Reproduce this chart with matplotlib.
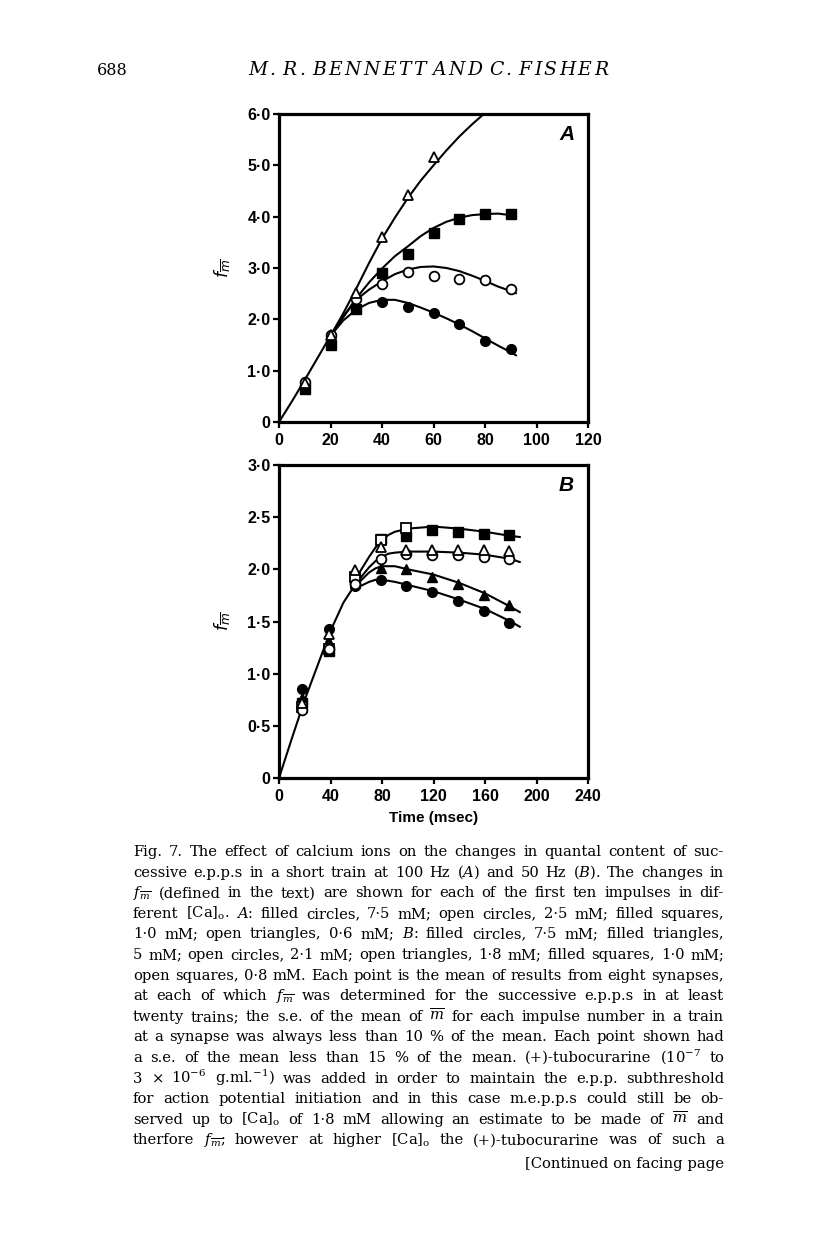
import matplotlib
matplotlib.use("Agg")
import matplotlib.pyplot as plt

plt.rcParams['mathtext.fontset'] = 'dejavuserif'

# ---- Panel A data (100 Hz) ----
a_x = [10, 20, 30, 40, 50, 60, 70, 80, 90]
a_filled_circles = [0.72, 1.68, 2.2, 2.33, 2.24, 2.13, 1.9, 1.58, 1.43]
a_open_circles = [0.78, 1.7, 2.4, 2.68, 2.93, 2.84, 2.79, 2.77, 2.6]
a_filled_squares = [0.65, 1.5, 2.2, 2.9, 3.28, 3.68, 3.95, 4.05, 4.06]
a_tri_x = [10, 20, 30, 40, 50, 60]
a_open_triangles = [0.75, 1.7, 2.52, 3.6, 4.42, 5.17]

# fitted curves A
a_fit_tri_x = [0, 5, 10, 15, 20, 25, 30, 35, 40, 45, 50, 55, 60, 65, 70, 75, 80]
a_fit_tri_y = [0, 0.4, 0.82, 1.25, 1.68, 2.12, 2.6, 3.1, 3.57, 3.98, 4.36, 4.7, 5.0, 5.29, 5.56, 5.8, 6.02]
a_fit_x = [20, 25, 30, 35, 40, 45, 50, 55, 60, 65, 70, 75, 80, 85, 90, 92]
a_fit_sq = [1.68, 2.05, 2.41, 2.72, 2.99, 3.23, 3.42, 3.62, 3.78, 3.9, 3.98, 4.03, 4.05, 4.06, 4.03, 4.0]
a_fit_oc = [1.68, 2.05, 2.38, 2.58, 2.74, 2.88, 2.97, 3.02, 3.03, 3.0, 2.94, 2.85, 2.75, 2.64, 2.55, 2.51]
a_fit_fc = [1.68, 1.98, 2.19, 2.32, 2.38, 2.38, 2.32, 2.23, 2.13, 2.02, 1.9, 1.77, 1.63, 1.49, 1.36, 1.3]

# ---- Panel B data (50 Hz) ----
b_x = [18, 39, 59, 79, 99, 119, 139, 159, 179]
b_filled_circles = [0.85, 1.43, 1.84, 1.9, 1.84, 1.78, 1.7, 1.6, 1.49]
b_filled_triangles = [0.77, 1.3, 1.87, 2.01, 2.0, 1.93, 1.86, 1.75, 1.66]
b_open_circles = [0.65, 1.24, 1.86, 2.1, 2.15, 2.14, 2.14, 2.12, 2.1]
b_open_triangles = [0.72, 1.38, 1.99, 2.21, 2.19, 2.19, 2.19, 2.19, 2.18]
b_filled_squares = [0.72, 1.22, 1.9, 2.29, 2.32, 2.38, 2.36, 2.34, 2.33]
b_osq_x = [18, 39, 59, 79, 99]
b_open_squares = [0.68, 1.24, 1.93, 2.28, 2.4]

# fitted curves B
b_fit0_x = [0, 10, 20, 30, 40, 50, 60]
b_fit0_y = [0, 0.38, 0.75, 1.08, 1.41, 1.68, 1.87]
b_fit_x = [60, 70, 75, 80, 85, 90, 100, 120, 140, 160, 180, 187]
b_fit_sq = [1.92, 2.12, 2.21, 2.28, 2.33, 2.36, 2.39, 2.41, 2.39, 2.36, 2.32, 2.31]
b_fit_oc = [1.87, 2.02, 2.08, 2.12, 2.15, 2.16, 2.17, 2.17, 2.16, 2.14, 2.1, 2.07]
b_fit_ft = [1.85, 1.97, 2.01, 2.03, 2.03, 2.03, 2.0, 1.95, 1.87, 1.77, 1.64, 1.59]
b_fit_fc = [1.82, 1.88, 1.9, 1.9, 1.89, 1.88, 1.85, 1.79, 1.71, 1.62, 1.5, 1.45]

a_xticks = [0, 20, 40, 60, 80, 100, 120]
a_yticks = [0, 1, 2, 3, 4, 5, 6]
a_yticklabels = ["0", "1·0", "2·0", "3·0", "4·0", "5·0", "6·0"]
b_xticks = [0, 40, 80, 120, 160, 200, 240]
b_yticks = [0, 0.5, 1, 1.5, 2, 2.5, 3]
b_yticklabels = ["0", "0·5", "1·0", "1·5", "2·0", "2·5", "3·0"]

header = "M. R. BENNETT AND C. FISHER"
page_no = "688"
caption = [
    "Fig. 7. The effect of calcium ions on the changes in quantal content of suc-",
    "cessive e.p.p.s in a short train at 100 Hz ($A$) and 50 Hz ($B$). The changes in",
    "$f_{\\overline{m}}$ (defined in the text) are shown for each of the first ten impulses in dif-",
    "ferent [Ca]$_{\\mathrm{o}}$. $A$: filled circles, 7·5 mM; open circles, 2·5 mM; filled squares,",
    "1·0 mM; open triangles, 0·6 mM; $B$: filled circles, 7·5 mM; filled triangles,",
    "5 mM; open circles, 2·1 mM; open triangles, 1·8 mM; filled squares, 1·0 mM;",
    "open squares, 0·8 mM. Each point is the mean of results from eight synapses,",
    "at each of which $f_{\\overline{m}}$ was determined for the successive e.p.p.s in at least",
    "twenty trains; the s.e. of the mean of $\\overline{m}$ for each impulse number in a train",
    "at a synapse was always less than 10 % of the mean. Each point shown had",
    "a s.e. of the mean less than 15 % of the mean. (+)-tubocurarine (10$^{-7}$ to",
    "3 $\\times$ 10$^{-6}$ g.ml.$^{-1}$) was added in order to maintain the e.p.p. subthreshold",
    "for action potential initiation and in this case m.e.p.p.s could still be ob-",
    "served up to [Ca]$_{\\mathrm{o}}$ of 1·8 mM allowing an estimate to be made of $\\overline{m}$ and",
    "therfore $f_{\\overline{m}}$; however at higher [Ca]$_{\\mathrm{o}}$ the (+)-tubocurarine was of such a",
]
continued = "[Continued on facing page"

W, H = 816, 1238
fig = plt.figure(figsize=(W / 100, H / 100), dpi=100)
tick_font = dict(fontfamily="Liberation Sans", fontweight="bold", fontsize=11.5)


def style_axes(ax, xt, yt, ytl, xmax, ymax):
    ax.set_xlim(0, xmax)
    ax.set_ylim(0, ymax)
    ax.set_xticks(xt)
    ax.set_xticklabels([str(v) for v in xt], **tick_font)
    ax.set_yticks(yt)
    ax.set_yticklabels(ytl, **tick_font)
    ax.tick_params(direction="out", length=4.5, width=1.6)
    ax.tick_params(axis="x", pad=3.5)
    ax.tick_params(axis="y", pad=1.5)
    for s in ax.spines.values():
        s.set_linewidth(2.3)
    ax.set_ylabel(r"$f_{\overline{m}}$", fontsize=12.5, math_fontfamily="dejavusans")
    ax.yaxis.set_label_coords(-0.15, 0.5)


line_kw = dict(color="black", lw=1.5, zorder=2)
filled = dict(ls="none", ms=7, mfc="black", mec="black", zorder=3)
opened = dict(ls="none", ms=7, mfc="white", mec="black", mew=1.3, zorder=4)

# ---- Panel A ----
axA = fig.add_axes([279 / W, 1 - 422 / H, 309 / W, 308 / H])
axA.plot(a_fit_tri_x, a_fit_tri_y, **line_kw)
axA.plot(a_fit_x, a_fit_sq, **line_kw)
axA.plot(a_fit_x, a_fit_oc, **line_kw)
axA.plot(a_fit_x, a_fit_fc, **line_kw)
axA.plot(a_x, a_filled_squares, marker="s", **filled)
axA.plot(a_x, a_filled_circles, marker="o", **filled)
axA.plot(a_x, a_open_circles, marker="o", **opened)
axA.plot(a_tri_x, a_open_triangles, marker="^", **opened)
style_axes(axA, a_xticks, a_yticks, a_yticklabels, 120, 6)
axA.text(0.955, 0.935, "A", transform=axA.transAxes, ha="right", va="center",
         fontsize=15, fontstyle="italic", fontweight="bold", fontfamily="Liberation Sans")

# ---- Panel B ----
axB = fig.add_axes([279 / W, 1 - 778 / H, 309 / W, 313 / H])
axB.plot(b_fit0_x, b_fit0_y, **line_kw)
axB.plot(b_fit_x, b_fit_sq, **line_kw)
axB.plot(b_fit_x, b_fit_oc, **line_kw)
axB.plot(b_fit_x, b_fit_ft, **line_kw)
axB.plot(b_fit_x, b_fit_fc, **line_kw)
axB.plot(b_x, b_filled_squares, marker="s", **filled)
axB.plot(b_x, b_filled_triangles, marker="^", **filled)
axB.plot(b_x, b_filled_circles, marker="o", **filled)
axB.plot(b_osq_x, b_open_squares, marker="s", **opened)
axB.plot(b_x, b_open_circles, marker="o", **opened)
axB.plot(b_x, b_open_triangles, marker="^", **opened)
style_axes(axB, b_xticks, b_yticks, b_yticklabels, 240, 3)
axB.set_xlabel("Time (msec)", fontfamily="Liberation Sans", fontweight="bold", fontsize=11, labelpad=5)
axB.text(0.955, 0.935, "B", transform=axB.transAxes, ha="right", va="center",
         fontsize=15, fontstyle="italic", fontweight="bold", fontfamily="Liberation Sans")

# ---- page text ----
renderer = fig.canvas.get_renderer()


def width_of(s, **kw):
    t = fig.text(0, 0, s, **kw)
    w = t.get_window_extent(renderer).width
    t.remove()
    return w


def justify(words, y_px, x0, x1, **kw):
    texts = [fig.text(0, 1 - y_px / H, w, va="baseline", ha="left", **kw) for w in words]
    widths = [t.get_window_extent(renderer).width for t in texts]
    gap = (x1 - x0 - sum(widths)) / max(len(words) - 1, 1)
    x = x0
    for t, w in zip(texts, widths):
        t.set_x(x / W)
        x += w + gap


# pick caption size so the widest line just fits the column
col_left, col_right = 133, 724
base = 10.0
widest = max(width_of(l, fontfamily="DejaVu Serif", fontsize=base) for l in caption)
cap_size = base * (col_right - col_left) / widest * 0.985
serif = dict(fontfamily="DejaVu Serif", fontsize=cap_size)

fig.text(97 / W, 1 - 75 / H, page_no, va="baseline", ha="left", fontfamily="DejaVu Serif", fontsize=11.5)

# header: letter-spaced italic capitals
hkw = dict(fontfamily="DejaVu Serif", fontstyle="italic", fontsize=13.5)
hwords = header.split(" ")
chars = [list(w) for w in hwords]
cw = [[width_of(c, **hkw) for c in w] for w in chars]
n_gaps = sum(len(w) - 1 for w in chars) + 3 * (len(chars) - 1)
g = (608 - 248 - sum(sum(w) for w in cw)) / n_gaps
x = 248
for w, ws in zip(chars, cw):
    for c, cwid in zip(w, ws):
        fig.text(x / W, 1 - 75 / H, c, va="baseline", ha="left", **hkw)
        x += cwid + g
    x += 2 * g

for i, line in enumerate(caption):
    justify(line.split(" "), 856 + i * 20.6, col_left, col_right, **serif)
fig.text(col_right / W, 1 - (856 + 15 * 20.6 + 3) / H, continued, va="baseline", ha="right", **serif)

fig.savefig("out.png", dpi=100, facecolor="white")
